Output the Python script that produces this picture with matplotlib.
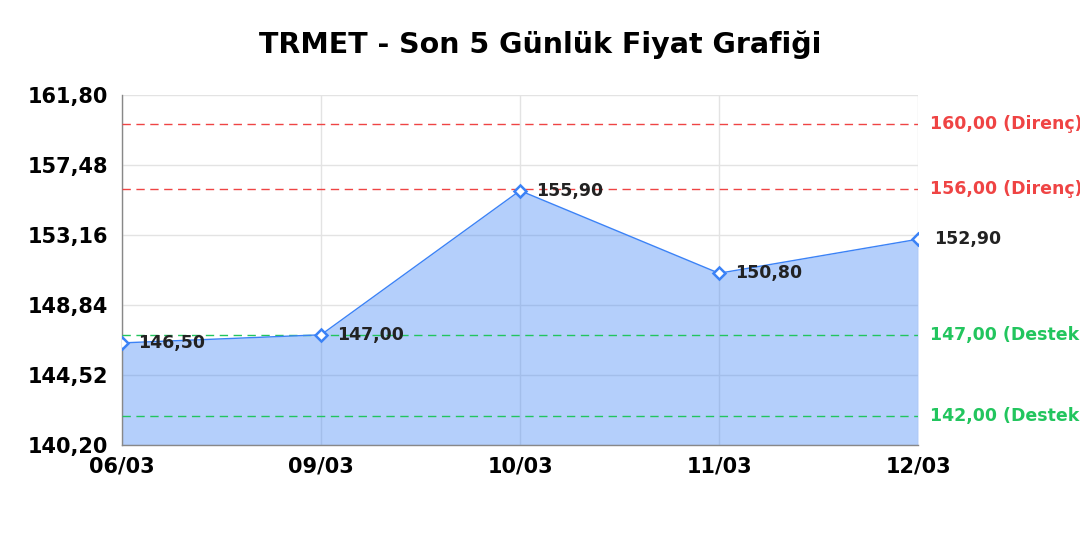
import matplotlib
matplotlib.use("Agg")
import matplotlib.pyplot as plt

dates = ["06/03", "09/03", "10/03", "11/03", "12/03"]
prices = [146.50, 147.00, 155.90, 150.80, 152.90]
resistance = [160.00, 156.00]
support = [147.00, 142.00]
y_ticks = [140.20, 144.52, 148.84, 153.16, 157.48, 161.80]
title = "TRMET - Son 5 Günlük Fiyat Grafiği"

def fmt(v):
    return f"{v:.2f}".replace(".", ",")

blue = "#3b82f6"
red = "#ef4444"
green = "#22c55e"

fig = plt.figure(figsize=(10.8, 5.4), dpi=100)
ax = fig.add_axes([0.113, 0.176, 0.737, 0.648])
x = list(range(len(dates)))

ax.fill_between(x, prices, y_ticks[0], color=blue, alpha=0.38, linewidth=0, zorder=2)
ax.plot(x, prices, color=blue, linewidth=1, zorder=4)
ax.plot(x, prices, linestyle="none", marker="D", markersize=6.5, markerfacecolor="white",
        markeredgecolor=blue, markeredgewidth=1.8, zorder=5)

for xi, p in zip(x, prices):
    ax.annotate(fmt(p), (xi, p), xytext=(11.5, 0),
                textcoords="offset points", ha="left", va="center",
                fontsize=12.5, fontweight="bold", color="#222222", zorder=6,
                annotation_clip=False)

for r in resistance:
    ax.axhline(r, color=red, linestyle=(0, (6, 4)), linewidth=1, zorder=3)
    ax.annotate(f"{fmt(r)} (Direnç)", (1, r), xycoords=("axes fraction", "data"),
                xytext=(9, 0), textcoords="offset points", ha="left", va="center",
                fontsize=12.5, fontweight="bold", color=red, annotation_clip=False)
for s in support:
    ax.axhline(s, color=green, linestyle=(0, (6, 4)), linewidth=1, zorder=3)
    ax.annotate(f"{fmt(s)} (Destek)", (1, s), xycoords=("axes fraction", "data"),
                xytext=(9, 0), textcoords="offset points", ha="left", va="center",
                fontsize=12.5, fontweight="bold", color=green, annotation_clip=False)

ax.set_xlim(0, len(dates) - 1)
ax.set_ylim(y_ticks[0], y_ticks[-1])
ax.set_xticks(x)
ax.set_xticklabels(dates)
ax.set_yticks(y_ticks)
ax.set_yticklabels([fmt(v) for v in y_ticks])
ax.tick_params(axis="both", length=0, labelsize=15)
ax.tick_params(axis="y", pad=10)
ax.tick_params(axis="x", pad=8)
for lbl in ax.get_xticklabels() + ax.get_yticklabels():
    lbl.set_fontweight("bold")
ax.grid(True, color="#e3e3e3", linewidth=1, zorder=1)
ax.set_axisbelow(True)
for side in ["top", "right"]:
    ax.spines[side].set_visible(False)
for side in ["left", "bottom"]:
    ax.spines[side].set_color("#888888")
    ax.spines[side].set_linewidth(1)

fig.text(0.5, 0.918, title, ha="center", va="center", fontsize=20.5, fontweight="bold")
fig.savefig("out.png", dpi=100)
